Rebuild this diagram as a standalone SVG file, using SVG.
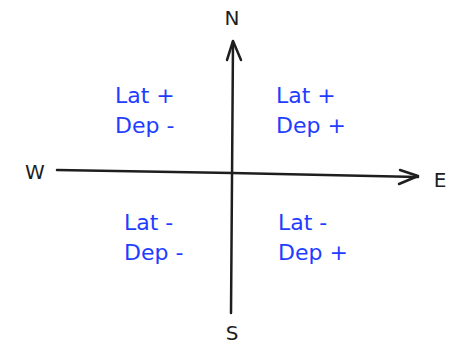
<svg xmlns="http://www.w3.org/2000/svg" width="459" height="345" viewBox="0 0 459 345">
<style>
.ax{stroke:#1e1e1e;stroke-width:2.5;fill:none;stroke-linecap:round;stroke-linejoin:round}
.q{font-family:"DejaVu Sans",sans-serif;font-size:22px;fill:#1f3dff}
.d{font-family:"DejaVu Sans",sans-serif;font-size:20px;fill:#1e1e1e}
</style>
<rect width="459" height="345" fill="#ffffff"/>
<g id="connectors">
<path class="ax" d="M233 42 L232 180 L231 313"/>
<path class="ax" d="M227 60 L233 41 L241 60"/>
<path class="ax" d="M57 170 L232 173 L418 177"/>
<path class="ax" d="M400 170 L418 176 L399 184"/>
</g>
<g id="N"><text class="d" x="232" y="25" text-anchor="middle">N</text></g>
<g id="S"><text class="d" x="232" y="340" text-anchor="middle">S</text></g>
<g id="W"><text class="d" x="35" y="179" text-anchor="middle">W</text></g>
<g id="E"><text class="d" x="440" y="187" text-anchor="middle">E</text></g>
<g id="NW"><text class="q" x="115" y="103">Lat +</text><text class="q" x="115" y="133">Dep -</text></g>
<g id="NE"><text class="q" x="276" y="103">Lat +</text><text class="q" x="276" y="133">Dep +</text></g>
<g id="SW"><text class="q" x="124" y="230">Lat -</text><text class="q" x="124" y="260">Dep -</text></g>
<g id="SE"><text class="q" x="278" y="230">Lat -</text><text class="q" x="278" y="260">Dep +</text></g>
</svg>
